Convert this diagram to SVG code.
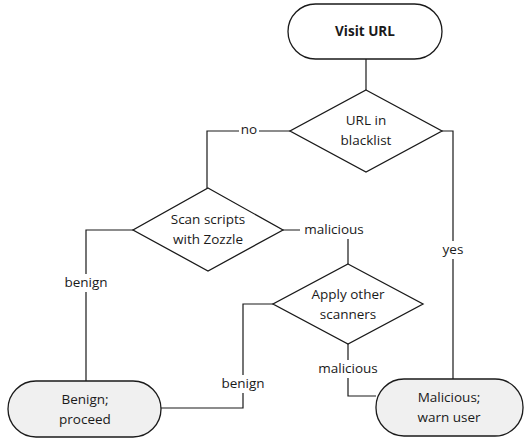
<svg xmlns="http://www.w3.org/2000/svg" width="526" height="440" viewBox="0 0 526 440">
<style>
.n{stroke:#1a1a1a;stroke-width:1.3;}
.t{fill:#ffffff;}
.g{fill:#f0f0f0;}
.d{fill:#ffffff;}
text{font-family:"Open Sans","Liberation Sans",sans-serif;font-size:13.5px;fill:#1a1a1a;text-anchor:middle;dominant-baseline:central;}
.b{font-weight:bold;}
.c path{fill:none;stroke:#1a1a1a;stroke-width:1.2;}
.lb{fill:#ffffff;stroke:none;}
</style>
<rect width="526" height="440" fill="#ffffff"/>
<g class="c" id="connectors">
<path d="M366,59 V90"/>
<path d="M290,131 H207 V188"/>
<path d="M442,131 H453 V379"/>
<path d="M133,230 H86 V381"/>
<path d="M283,230 H348 V264"/>
<path d="M273,304 H243 V408 H161"/>
<path d="M348,344 V396 H376"/>
<rect class="lb" x="239" y="122" width="20" height="18"/>
<text x="249" y="129">no</text>
<rect class="lb" x="440" y="241" width="26" height="18"/>
<text x="453" y="249">yes</text>
<rect class="lb" x="60" y="274" width="52" height="18"/>
<text x="86" y="282">benign</text>
<rect class="lb" x="300" y="221" width="68" height="18"/>
<text x="334" y="229">malicious</text>
<rect class="lb" x="217" y="375" width="52" height="18"/>
<text x="243" y="383">benign</text>
<rect class="lb" x="312" y="360" width="72" height="18"/>
<text x="348" y="368">malicious</text>
</g>
<g id="visit">
<rect class="n t" x="288" y="4" width="154" height="55" rx="27.5"/>
<text class="b" x="365" y="31">Visit URL</text>
</g>
<g id="blacklist">
<polygon class="n d" points="366,90 442,131 366,172 290,131"/>
<text x="366" y="120">URL in</text>
<text x="366" y="140">blacklist</text>
</g>
<g id="zozzle">
<polygon class="n d" points="208,188 283,230 208,271 133,230"/>
<text x="208" y="219">Scan scripts</text>
<text x="208" y="239">with Zozzle</text>
</g>
<g id="other">
<polygon class="n d" points="348,264 423,304 348,344 273,304"/>
<text x="348" y="294">Apply other</text>
<text x="348" y="314">scanners</text>
</g>
<g id="benign">
<rect class="n g" x="8" y="381" width="153" height="56" rx="28"/>
<text x="85" y="399">Benign;</text>
<text x="85" y="419">proceed</text>
</g>
<g id="malicious">
<rect class="n g" x="376" y="379" width="147" height="57" rx="28"/>
<text x="449" y="397">Malicious;</text>
<text x="449" y="417">warn user</text>
</g>
</svg>
